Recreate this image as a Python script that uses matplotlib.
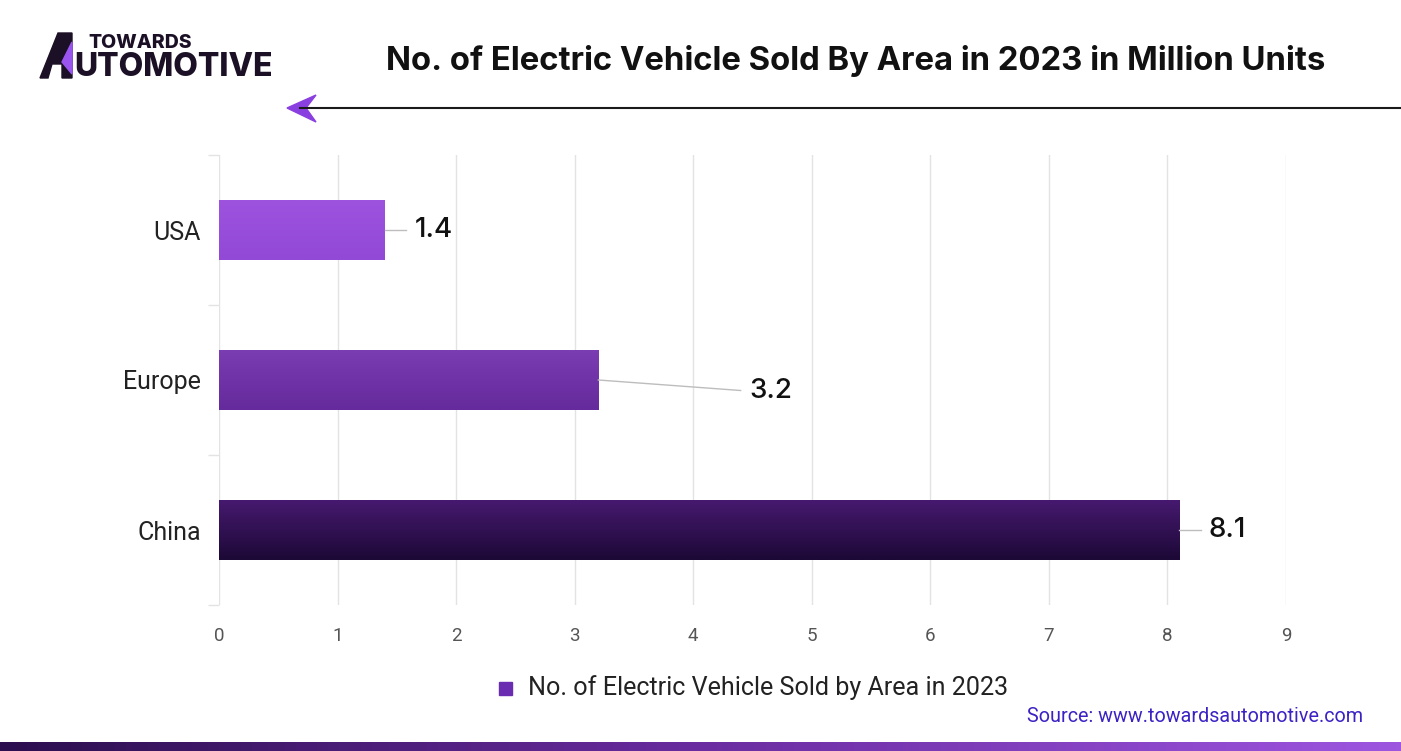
import numpy as np
import matplotlib.pyplot as plt
from matplotlib.patches import Polygon
from matplotlib.colors import LinearSegmentedColormap

areas = ["China", "Europe", "USA"]
sales = [8.1, 3.2, 1.4]
x_ticks = [0, 1, 2, 3, 4, 5, 6, 7, 8, 9]
bar_tops = ["#46196f", "#7a3db2", "#9d53de"]
bar_bottoms = ["#1c0936", "#652a9c", "#9249d6"]

plt.rcParams['font.family'] = ['Inter', 'DejaVu Sans']

fig = plt.figure(figsize=(14.01, 7.51), dpi=100)
ax = fig.add_axes([219 / 1401, 1 - 605 / 751, (1286 - 219) / 1401, 450 / 751])

ypos = np.arange(len(areas))
bars = ax.barh(ypos, sales, height=0.4, color=bar_tops, zorder=2)

# vertical gradient on every bar
for b, top, bot in zip(bars, bar_tops, bar_bottoms):
    cmap = LinearSegmentedColormap.from_list("g", [bot, top])
    x0, y0 = b.get_x(), b.get_y()
    w, h = b.get_width(), b.get_height()
    im = ax.imshow(np.linspace(0, 1, 50).reshape(-1, 1), cmap=cmap, aspect="auto",
                   extent=[x0, x0 + w, y0, y0 + h], origin="lower", zorder=3)
    im.set_clip_path(b)

ax.set_xlim(0, 9)
ax.set_ylim(-0.5, len(areas) - 0.5)
ax.set_xticks(x_ticks)
ax.set_yticks(ypos)
ax.set_yticklabels(areas)
ax.set_yticks(np.arange(-0.5, len(areas), 1.0), minor=True)
ax.grid(axis="x", color="#e3e3e3", linewidth=1, zorder=0)
for s in ax.spines.values():
    s.set_visible(False)
ax.tick_params(axis="x", length=0, pad=16, labelsize=13.5, labelcolor="#555555")
ax.tick_params(axis="y", which="major", length=0, pad=13, labelsize=18, labelcolor="#222222")
ax.tick_params(axis="y", which="minor", length=8, color="#e3e3e3", width=1)
for lbl in ax.get_xticklabels() + ax.get_yticklabels():
    lbl.set_family(["Roboto", "DejaVu Sans"])

# value labels with leader lines
offsets = [(0.18, 0.0), (1.2, -0.07), (0.18, 0.0)]
for i, v in enumerate(sales):
    dx, dy = offsets[i]
    ax.plot([v, v + dx], [i, i + dy], color="#bdbdbd", linewidth=1, zorder=4)
    ax.text(v + dx + 0.07, i + dy, f"{v}", va="center", ha="left",
            fontsize=20, fontweight="medium", color="#111111", zorder=5)

# title
fig.text(856 / 1401, 1 - 61 / 751, "No. of Electric Vehicle Sold By Area in 2023 in Million Units",
         ha="center", va="center", fontsize=23.7, fontweight="bold", color="#111111")

# header line with arrow head
fig.add_artist(plt.Line2D([300 / 1401, 1], [1 - 108 / 751] * 2, color="#1a1a1a", linewidth=1.5))
fig.add_artist(Polygon([[287 / 1401, 1 - 108 / 751], [316 / 1401, 1 - 95 / 751],
                        [306 / 1401, 1 - 108 / 751], [316 / 1401, 1 - 122 / 751]],
                       closed=True, color="#8a3fe0", transform=fig.transFigure))

# logo
fig.add_artist(Polygon([[40 / 1401, 1 - 78 / 751], [58 / 1401, 1 - 33 / 751], [72 / 1401, 1 - 33 / 751],
                        [72 / 1401, 1 - 78 / 751], [62 / 1401, 1 - 78 / 751], [62 / 1401, 1 - 64 / 751],
                        [52 / 1401, 1 - 64 / 751], [48 / 1401, 1 - 78 / 751]],
                       closed=True, color="#1b1026", transform=fig.transFigure))
fig.add_artist(Polygon([[62 / 1401, 1 - 62 / 751], [72 / 1401, 1 - 42 / 751], [72 / 1401, 1 - 74 / 751]],
                       closed=True, color="#9a55f0", transform=fig.transFigure))
fig.text(88 / 1401, 1 - 43 / 751, "TOWARDS", ha="left", va="center", fontsize=14,
         fontweight="heavy", color="#1b1026")
fig.text(74 / 1401, 1 - 67 / 751, "UTOMOTIVE", ha="left", va="center", fontsize=23,
         fontweight="heavy", color="#1b1026")

# legend
fig.add_artist(Polygon([[499 / 1401, 1 - 682 / 751], [512 / 1401, 1 - 682 / 751],
                        [512 / 1401, 1 - 695 / 751], [499 / 1401, 1 - 695 / 751]],
                       closed=True, color="#6a2cb0", transform=fig.transFigure))
fig.text(528 / 1401, 1 - 688 / 751, "No. of Electric Vehicle Sold by Area in 2023", ha="left",
         va="center", fontsize=18.1, color="#222222", family=["Roboto", "DejaVu Sans"])

# source
fig.text(1363 / 1401, 1 - 717 / 751, "Source: www.towardsautomotive.com", ha="right", va="center",
         fontsize=14.2, color="#3b22c4", family=["Roboto", "DejaVu Sans"])

# bottom gradient strip
strip = fig.add_axes([0, 0, 1, 9 / 751])
strip.imshow(np.linspace(0, 1, 256).reshape(1, -1), aspect="auto",
             cmap=LinearSegmentedColormap.from_list("s", ["#2c0f4f", "#6a2ca0", "#9d55e0"]))
strip.axis("off")

fig.savefig("out.png", dpi=100)
